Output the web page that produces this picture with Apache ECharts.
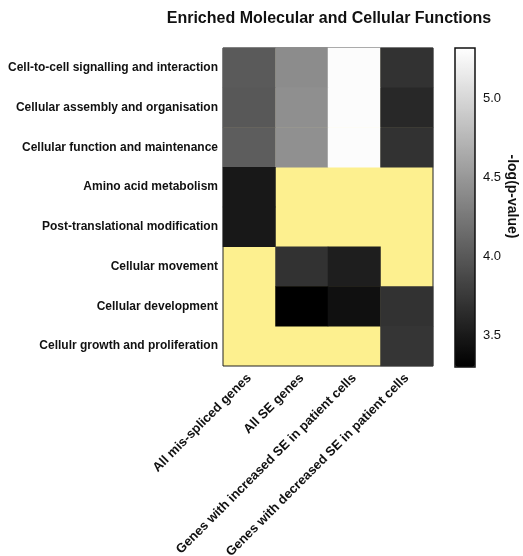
<!DOCTYPE html>
<html>
<head>
<meta charset="utf-8">
<script src="https://cdn.jsdelivr.net/npm/echarts@6/dist/echarts.min.js"></script>
<style>
  html, body { margin: 0; padding: 0; background: #fff; }
  #chart { width: 523px; height: 556px; }
</style>
</head>
<body>
<div id="chart"></div>
<script>
// Gene sets (columns) and functional categories (rows, top to bottom)
const geneSets = [
  'All mis-spliced genes',
  'All SE genes',
  'Genes with increased SE in patient cells',
  'Genes with decreased SE in patient cells'
];
const functions = [
  'Cell-to-cell signalling and interaction',
  'Cellular assembly and organisation',
  'Cellular function and maintenance',
  'Amino acid metabolism',
  'Post-translational modification',
  'Cellular movement',
  'Cellular development',
  'Cellulr growth and proliferation'
];
// -log(p-value) per row, one entry per gene set; null = not enriched
const signalling  = [4.01, 4.41, 5.30, 3.70];
const assembly    = [4.00, 4.43, 5.30, 3.62];
const maintenance = [4.04, 4.44, 5.30, 3.70];
const aminoAcid   = [3.49, null, null, null];
const postTrans   = [3.49, null, null, null];
const movement    = [null, 3.70, 3.54, null];
const development = [null, 3.30, 3.43, 3.70];
const growth      = [null, null, null, 3.72];
const rows = [signalling, assembly, maintenance, aminoAcid, postTrans, movement, development, growth];

// colour scale range and ticks
const scaleMin = 3.3;
const scaleMax = 5.32;
const scaleTicks = [3.5, 4.0, 4.5, 5.0];

const cells = [];
rows.forEach((vals, r) => {
  vals.forEach((v, c) => {
    cells.push([c, r, v === null ? '-' : v]);
  });
});

const font = 'Liberation Sans, Arial, sans-serif';
const chart = echarts.init(document.getElementById('chart'));
chart.setOption({
  animation: false,
  backgroundColor: '#fff',
  title: {
    text: 'Enriched Molecular and Cellular Functions',
    left: 324, top: 6, textAlign: 'center',
    textStyle: { fontFamily: font, fontSize: 16, fontWeight: 'bold', color: '#111' }
  },
  grid: [
    { left: 223, top: 48, width: 210, height: 318, show: true, containLabel: false,
      outerBoundsMode: 'none',
      backgroundColor: '#fdf08f', borderColor: '#222', borderWidth: 1 },
    { left: 455, top: 48, width: 20, height: 319, show: true, containLabel: false,
      outerBoundsMode: 'none',
      backgroundColor: 'transparent', borderColor: '#111', borderWidth: 1.5, z: 10 }
  ],
  xAxis: [
    { type: 'category', gridIndex: 0, data: geneSets,
      axisLine: { show: false }, axisTick: { show: false }, splitLine: { show: false },
      axisLabel: { rotate: 45, interval: 0, margin: 10, fontFamily: font,
        fontSize: 13, fontWeight: 'bold', color: '#111' } },
    { type: 'category', gridIndex: 1, data: [''], show: false }
  ],
  yAxis: [
    { type: 'category', gridIndex: 0, data: functions, inverse: true,
      axisLine: { show: false }, axisTick: { show: false }, splitLine: { show: false },
      axisLabel: { interval: 0, margin: 5, fontFamily: font,
        fontSize: 12, fontWeight: 'bold', color: '#111', padding: [3, 0, 0, 0] } },
    { type: 'value', gridIndex: 1, min: scaleMin, max: scaleMax, position: 'right',
      name: '-log(p-value)', nameLocation: 'middle', nameRotate: -90, nameGap: 30,
      nameTextStyle: { fontFamily: font, fontSize: 14, fontWeight: 'bold', color: '#111',
        padding: [0, 22, 0, 0] },
      axisLine: { show: false }, splitLine: { show: false },
      axisTick: { show: true, inside: true, length: 3, customValues: scaleTicks,
        lineStyle: { color: '#111', width: 1.5 } },
      axisLabel: { customValues: scaleTicks, margin: 8, fontFamily: font, fontSize: 13,
        color: '#111', padding: [3, 0, 0, 0], formatter: v => v.toFixed(1) } }
  ],
  visualMap: {
    type: 'continuous', min: scaleMin, max: scaleMax, seriesIndex: 0,
    calculable: false, show: true, orient: 'vertical',
    left: 455, top: 48, itemWidth: 20, itemHeight: 319, padding: 0,
    text: null, showLabel: false, realtime: false, hoverLink: false,
    inRange: { color: ['#000000', '#ffffff'] }
  },
  series: [
    { type: 'heatmap', xAxisIndex: 0, yAxisIndex: 0, data: cells,
      itemStyle: { borderWidth: 0 },
      emphasis: { disabled: true } }
  ]
});
</script>
</body>
</html>
